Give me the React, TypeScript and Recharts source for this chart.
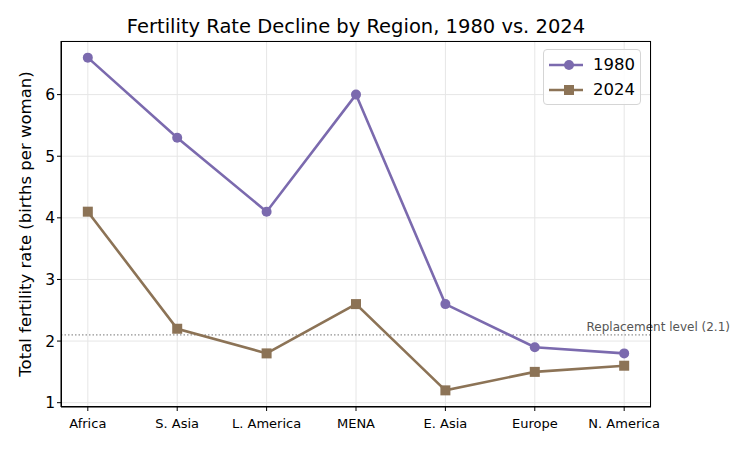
import React from 'react'
import {
  LineChart,
  Line,
  XAxis,
  YAxis,
  CartesianGrid,
  ReferenceLine,
} from 'recharts'

const regions = ['Africa', 'S. Asia', 'L. America', 'MENA', 'E. Asia', 'Europe', 'N. America']
const rate1980 = [6.6, 5.3, 4.1, 6.0, 2.6, 1.9, 1.8]
const rate2024 = [4.1, 2.2, 1.8, 2.6, 1.2, 1.5, 1.6]
const yTicks = [1, 2, 3, 4, 5, 6]
const replacement = 2.1

const purple = '#7b6aae'
const brown = '#8c7356'
const font = 'DejaVu Sans, sans-serif'

const data = regions.map((r, i) => ({
  idx: i,
  region: r,
  y1980: rate1980[i],
  y2024: rate2024[i],
}))

const SquareDot = (props: any) => {
  const { cx, cy } = props
  if (cx == null || cy == null) return null
  return <rect x={cx - 5} y={cy - 5} width={10} height={10} fill={brown} />
}

const LegendBox = () => (
  <div
    style={{
      position: 'absolute',
      left: 543,
      top: 49,
      border: '1px solid #d5d5d5',
      borderRadius: 4,
      background: 'rgba(255,255,255,0.85)',
      padding: '2px 5px 2px 5px',
      fontFamily: font,
      fontSize: 16.5,
      width: 86,
    }}
  >
    {[
      { name: '1980', color: purple, square: false },
      { name: '2024', color: brown, square: true },
    ].map((s) => (
      <div key={s.name} style={{ display: 'flex', alignItems: 'center', height: 25 }}>
        <svg width={40} height={12} style={{ marginRight: 10 }}>
          <line x1={0} y1={6} x2={40} y2={6} stroke={s.color} strokeWidth={2.5} />
          {s.square ? (
            <rect x={15} y={1} width={10} height={10} fill={s.color} />
          ) : (
            <circle cx={20} cy={6} r={5} fill={s.color} />
          )}
        </svg>
        <span>{s.name}</span>
      </div>
    ))}
  </div>
)

export default function App() {
  return (
    <div style={{ position: 'absolute', left: 0, top: 0, width: 750, height: 450, background: '#fff' }}>
      <div
        style={{
          position: 'absolute',
          left: 61,
          width: 590,
          top: 15,
          textAlign: 'center',
          fontFamily: font,
          fontSize: 19.5,
        }}
      >
        Fertility Rate Decline by Region, 1980 vs. 2024
      </div>
      <LineChart
        width={750}
        height={450}
        data={data}
        margin={{ top: 41, right: 99, bottom: 0, left: 16 }}
        style={{ fontFamily: font, position: 'absolute', left: 0, top: 0 }}
      >
        <CartesianGrid stroke="#e6e6e6" strokeWidth={1} />
        <XAxis
          dataKey="idx"
          type="number"
          domain={[-0.3, 6.3]}
          ticks={regions.map((_, i) => i)}
          tickFormatter={(v: number) => regions[v]}
          interval={0}
          height={43}
          tickSize={4}
          tickMargin={8}
          tickLine={{ stroke: '#000' }}
          axisLine={{ stroke: '#000' }}
          tick={{ fill: '#000', fontSize: 13 }}
        />
        <YAxis
          type="number"
          domain={[0.93, 6.87]}
          ticks={yTicks}
          width={45}
          tickSize={4}
          tickLine={{ stroke: '#000' }}
          axisLine={{ stroke: '#000' }}
          tick={{ fill: '#000', fontSize: 15.5 }}
          label={{
            value: 'Total fertility rate (births per woman)',
            angle: -90,
            position: 'insideLeft',
            offset: 9,
            style: { textAnchor: 'middle', fill: '#000', fontSize: 16.5 },
          }}
        />
        <ReferenceLine
          y={replacement}
          stroke="#777"
          strokeDasharray="1.5 2"
          strokeWidth={1}
          label={(p: any) => {
            const vb = p.viewBox
            return (
              <text x={vb.x + vb.width + 79} y={vb.y - 4} textAnchor="end" fill="#555" fontSize={12} fontFamily={font}>
                Replacement level (2.1)
              </text>
            )
          }}
        />
        <Line
          dataKey="y1980"
          name="1980"
          stroke={purple}
          strokeWidth={2.6}
          dot={{ r: 5, fill: purple, stroke: purple, strokeWidth: 0 }}
          isAnimationActive={false}
        />
        <Line
          dataKey="y2024"
          name="2024"
          stroke={brown}
          strokeWidth={2.6}
          dot={<SquareDot />}
          isAnimationActive={false}
        />
      </LineChart>
      <div
        style={{
          position: 'absolute',
          left: 61,
          top: 41,
          width: 590,
          height: 366,
          boxSizing: 'border-box',
          border: '1px solid #000',
          pointerEvents: 'none',
        }}
      />
      <LegendBox />
    </div>
  )
}
